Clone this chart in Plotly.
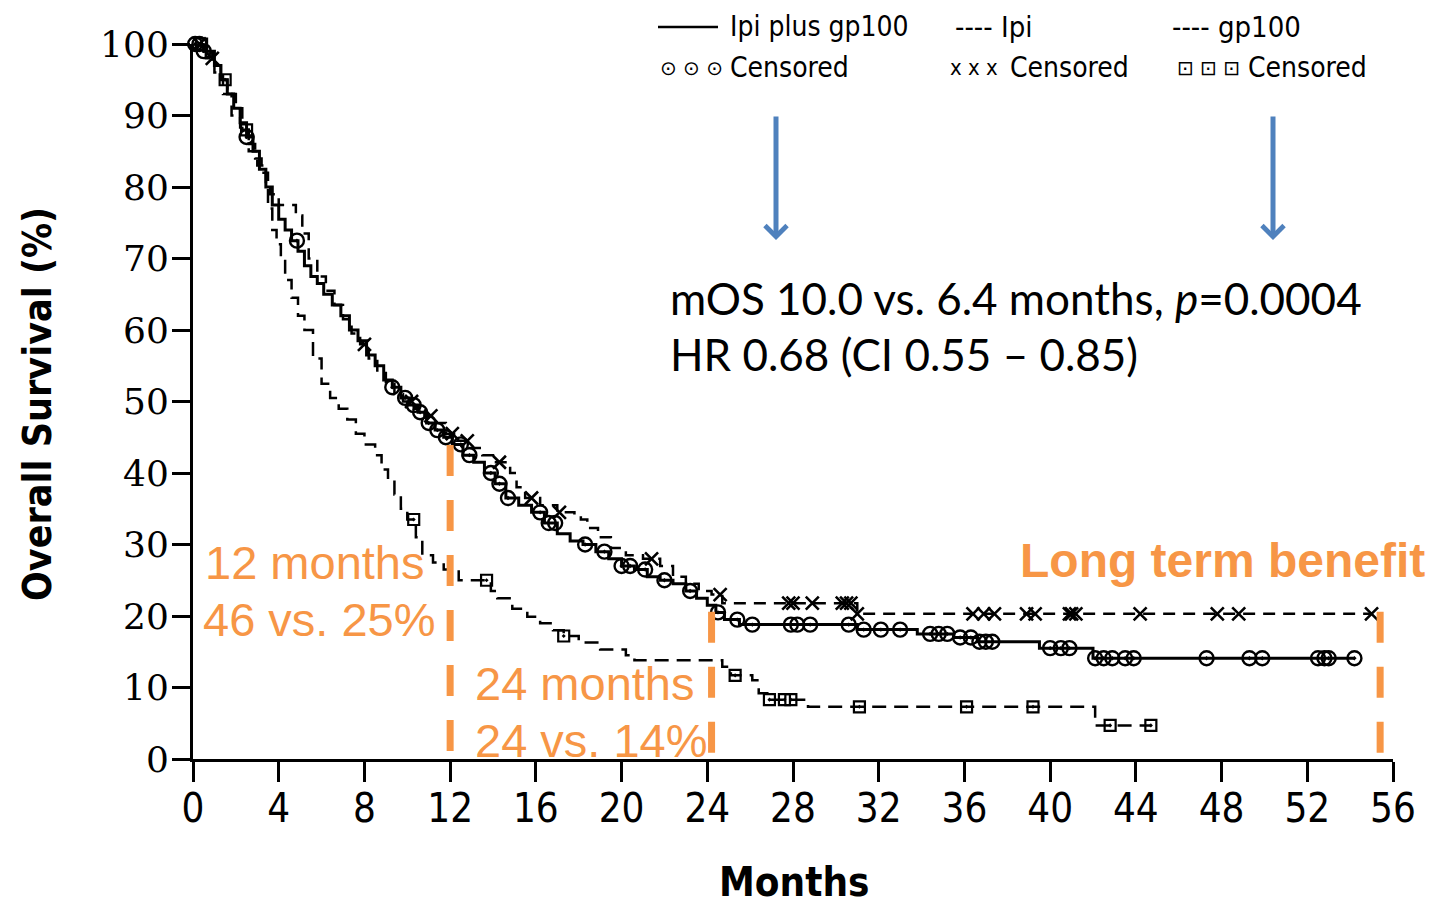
import numpy as np
import plotly.graph_objects as go

# ---------------- data ----------------
# Ipi plus gp100 (solid)
combo_t = [0, 0.5, 1.0, 1.3, 1.6, 1.9, 2.2, 2.5, 2.8, 3.1, 3.4, 3.7, 4.0, 4.3, 4.6, 4.9,
           5.2, 5.5, 5.8, 6.1, 6.5, 6.9, 7.3, 7.7, 8.1, 8.5, 8.9, 9.3, 9.7, 10.1, 10.5,
           10.9, 11.3, 11.7, 12.1, 12.6, 13.1, 13.6, 14.1, 14.6, 15.2, 15.8, 16.4, 17.0,
           17.6, 18.2, 18.8, 19.4, 20.0, 20.6, 21.2, 21.8, 22.4, 23.0, 23.5, 24.0, 24.4,
           24.8, 25.5, 31.0, 33.8, 35.5, 36.6, 39.5, 42.0]
combo_s = [100, 99, 97, 95, 93, 91, 89, 87, 85, 82.5, 80, 77.5, 75.5, 74, 72.5, 71,
           69, 67.5, 66.5, 65, 63.5, 62, 60, 58.5, 56.5, 55, 53, 52, 50.5, 49.5, 48.5,
           47, 46, 45, 44, 42.5, 41.5, 40, 38.5, 36.5, 35.5, 34.5, 33, 31.5,
           30.5, 30, 29, 28, 27, 26.5, 25.5, 25, 24.5, 23.5, 22.5, 21.5, 20.5,
           19.5, 18.8, 18.1, 17.5, 17.0, 16.4, 15.5, 14.1]
combo_end = 54.2
combo_cens = [0.1, 0.3, 0.5, 2.5, 4.85, 9.3, 9.9, 10.3, 10.6, 11.0, 11.4, 11.8, 12.5, 12.9,
              13.9, 14.3, 14.7, 16.2, 16.6, 16.9, 18.3, 19.2, 20.0, 20.4, 21.1, 22.0, 23.2,
              24.5, 25.4, 26.1, 27.9, 28.2, 28.8, 30.6, 31.3, 32.1, 33.0, 34.4, 34.8, 35.2,
              35.8, 36.3, 36.7, 37.0, 37.3, 40.0, 40.5, 40.9, 42.1, 42.5, 42.9, 43.5, 43.9,
              47.3, 49.3, 49.9, 52.5, 52.8, 53.0, 54.2]

# Ipi (dashed)
ipi_t = [0, 0.6, 1.0, 1.4, 1.8, 2.2, 2.6, 3.0, 3.4, 3.6, 4.0, 4.8, 5.1, 5.4, 5.8, 6.2,
         6.6, 7.0, 7.4, 7.8, 8.2, 8.6, 9.0, 9.4, 9.8, 10.3, 10.8, 11.3, 11.8, 12.3, 12.9,
         13.5, 14.0, 14.8, 15.1, 15.5, 16.2, 17.0, 17.8, 18.1, 18.4, 18.9, 19.5, 20.2,
         21.0, 21.8, 22.4, 23.0, 23.6, 24.2, 24.7, 31.0]
ipi_s = [100, 98, 96, 93, 90, 88, 85, 83, 80.5, 79, 77.5, 76, 73.5, 70, 67.5, 65.5,
         63.5, 61.5, 59.5, 58, 56, 54, 52.5, 51, 50, 49, 48, 47, 45.5, 44.5, 43.5,
         42.5, 41.5, 40, 38, 36.5, 35.5, 34.5, 34, 33.5, 32.3, 31, 29.5, 28.5,
         28, 27, 25.5, 24.5, 23.5, 23, 21.8, 20.3]
ipi_end = 55.0
ipi_cens = [0.3, 0.9, 8.0, 10.2, 11.1, 12.1, 12.8, 14.3, 15.8, 17.1, 21.4, 24.6, 27.8,
            28.0, 28.9, 30.3, 30.5, 30.7, 31.0, 36.4, 36.9, 37.4, 38.9, 39.3, 40.9, 41.0,
            41.2, 44.2, 47.8, 48.8, 55.0]

# gp100 (dashed)
gp_t = [0, 0.5, 0.9, 1.3, 1.6, 2.0, 2.3, 2.6, 2.9, 3.2, 3.5, 3.7, 3.9, 4.1, 4.3, 4.6,
        4.9, 5.2, 5.6, 6.0, 6.4, 6.8, 7.2, 7.6, 8.0, 8.5, 8.8, 9.1, 9.4, 9.7, 10.0,
        10.4, 10.7, 11.2, 11.7, 12.4, 13.9, 14.2, 14.9, 15.6, 16.2, 16.8, 17.3, 18.0,
        19.0, 20.2, 20.6, 24.7, 25.1, 26.1, 26.4, 26.8, 28.7, 42.1]
gp_s = [100, 99, 97, 95, 93, 91, 88, 86, 84, 82, 77, 74, 72, 70, 67, 64.5,
        62, 60, 56, 52.5, 50.5, 49, 47.5, 45.5, 44, 42.5, 40.5, 39, 37, 35, 33.5,
        31, 28.5, 27.5, 26.5, 25, 23.5, 22.5, 21, 19.9, 19, 18, 17.2, 16.3,
        15.3, 14.5, 13.8, 12.9, 11.7, 11.0, 9.2, 8.3, 7.3, 4.7]
gp_end = 44.7
gp_cens = [0.4, 1.5, 2.5, 10.3, 13.7, 17.3, 25.3, 26.9, 27.6, 27.9, 31.1, 36.1, 39.2,
           42.8, 44.7]

x_ticks = list(range(0, 57, 4))
y_ticks = list(range(0, 101, 10))

ORANGE = "#F79646"
BLUE = "#4F81BD"

# ---------------- helpers ----------------
W, H = 1432, 904
ML, MR, MT, MB = 193, 39, 44, 145
PW, PH = W - ML - MR, H - MT - MB


def PX(px):
    return (px - ML) / PW


def PY(py):
    return (H - MB - py) / PH


def step_at(times, surv, t):
    idx = np.searchsorted(np.asarray(times), t, side="right") - 1
    return np.asarray(surv)[idx]


def curve(times, surv, end):
    return list(times) + [end], list(surv) + [surv[-1]]


fig = go.Figure()

for (t, s, e, dash, w) in [
    (gp_t, gp_s, gp_end, "14px,8px", 2.5),
    (ipi_t, ipi_s, ipi_end, "12px,8px", 2.5),
    (combo_t, combo_s, combo_end, None, 3),
]:
    xs, ys = curve(t, s, e)
    fig.add_trace(go.Scatter(x=xs, y=ys, mode="lines", line_shape="hv",
                             line=dict(color="black", width=w, dash=dash),
                             cliponaxis=False, hoverinfo="skip", showlegend=False))

for (t, s, cens, sym, size, lw) in [
    (gp_t, gp_s, gp_cens, "square-open-dot", 11, 2.2),
    (ipi_t, ipi_s, ipi_cens, "x-thin-open", 13, 2.6),
    (combo_t, combo_s, combo_cens, "circle-open-dot", 14, 2.4),
]:
    cy = [float(step_at(t, s, c)) for c in cens]
    fig.add_trace(go.Scatter(x=cens, y=cy, mode="markers",
                             marker=dict(symbol=sym, size=size, color="black",
                                         line=dict(color="black", width=lw)),
                             cliponaxis=False, hoverinfo="skip", showlegend=False))

# orange dashed reference lines
for (xv, top) in [(12, 43.9), (24.2, 20.6), (55.4, 20.6)]:
    fig.add_shape(type="line", xref="x", yref="y", x0=xv, x1=xv, y0=top, y1=0,
                  line=dict(color=ORANGE, width=7, dash="31px,24px"), layer="above")

ann = []


def text(px, py, s, size, color="black", family="Liberation Sans", xanchor="left",
         yanchor="middle", textangle=0):
    ann.append(dict(xref="paper", yref="paper", x=PX(px), y=PY(py), text=s,
                    showarrow=False, xanchor=xanchor, yanchor=yanchor,
                    textangle=textangle,
                    font=dict(size=size, color=color, family=family)))


COND = "DejaVu Sans Condensed, DejaVu Sans"

# axis titles
text(37, 404, "<b>Overall Survival (%)</b>", 39, family=COND, xanchor="center",
     textangle=-90)
text(794, 882, "<b>Months</b>", 40, family=COND, xanchor="center")

# legend (drawn as text)
fig.add_shape(type="line", xref="paper", yref="paper", x0=PX(658), x1=PX(718),
              y0=PY(27), y1=PY(27), line=dict(color="black", width=2.5))
text(728, 27, "Ipi plus gp100", 28, family=COND)
text(953, 27, "---- Ipi", 29, family=COND)
text(1170, 27, "---- gp100", 29, family=COND)
text(658, 68, "\u2299 \u2299 \u2299", 20, family="DejaVu Sans")
text(728, 68, "Censored", 28, family=COND)
text(948, 68, "x x x", 22, family=COND)
text(1008, 68, "Censored", 28, family=COND)
text(1175, 68, "\u22a1 \u22a1 \u22a1", 20, family="DejaVu Sans")
text(1246, 68, "Censored", 28, family=COND)

# statistics
text(668, 298, "mOS 10.0 vs. 6.4 months, <i>p</i>=0.0004", 44, family="Lato")
text(668, 354, "HR 0.68 (CI 0.55 \u2013 0.85)", 44, family="Lato")

# orange annotations
text(203, 562, "12 months", 47, color=ORANGE)
text(201, 619, "46 vs. 25%", 47, color=ORANGE)
text(473, 683, "24 months", 47, color=ORANGE)
text(473, 740, "24 vs. 14%", 47, color=ORANGE)
text(1018, 560, "<b>Long term benefit</b>", 48, color=ORANGE)

# blue arrows
for axp in [776, 1273]:
    ann.append(dict(xref="paper", yref="paper", x=PX(axp), y=PY(240),
                    ax=0, ay=-125, axref="pixel", ayref="pixel",
                    showarrow=True, arrowhead=4, arrowsize=0.85, arrowwidth=5,
                    arrowcolor=BLUE, text=""))

fig.update_layout(
    width=W, height=H,
    margin=dict(l=ML, r=MR, t=MT, b=MB, pad=0),
    paper_bgcolor="white", plot_bgcolor="white",
    showlegend=False,
    annotations=ann,
    xaxis=dict(range=[0, 56], tickvals=x_ticks, ticktext=[str(v) for v in x_ticks],
               ticks="outside", ticklen=20, tickwidth=2.5, tickcolor="black",
               showline=True, linewidth=3, linecolor="black", showgrid=False,
               zeroline=False, fixedrange=True, ticklabelstandoff=-8,
               tickfont=dict(family=COND, size=40, color="black")),
    yaxis=dict(range=[0, 100], tickvals=y_ticks, ticktext=[str(v) for v in y_ticks],
               ticks="outside", ticklen=18, tickwidth=2.5, tickcolor="black",
               showline=True, linewidth=3, linecolor="black", showgrid=False,
               zeroline=False, fixedrange=True, ticklabelstandoff=-4,
               tickfont=dict(family="DejaVu Serif", size=36, color="black")),
)

fig.write_html("out.html")
